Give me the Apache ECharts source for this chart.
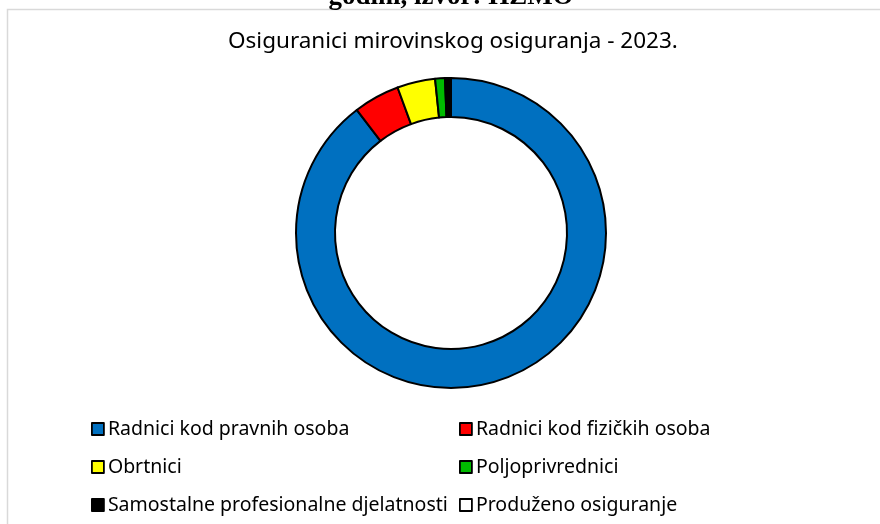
<!DOCTYPE html>
<html>
<head>
<meta charset="utf-8">
<script src="https://cdn.jsdelivr.net/npm/echarts@6/dist/echarts.min.js"></script>
<style>
  html, body { margin: 0; padding: 0; background: #fff; }
  #main { width: 880px; height: 524px; }
</style>
</head>
<body>
<div id="main"></div>
<script>
// kategorije osiguranika (redoslijed u smjeru kazaljke, od vrha)
var categories = [
    'Radnici kod pravnih osoba',
    'Radnici kod fizičkih osoba',
    'Obrtnici',
    'Poljoprivrednici',
    'Samostalne profesionalne djelatnosti',
    'Produženo osiguranje'
];
// broj osiguranika, procjena s grafa
var values = [1493000, 80000, 66000, 17000, 10000, 300];
var colors = ['#0070c0', '#ff0000', '#ffff00', '#00bb00', '#000000', '#ffffff'];

var leftCol = [categories[0], categories[2], categories[4]];
var rightCol = [categories[1], categories[3], categories[5]];

var chart = echarts.init(document.getElementById('main'));

var pieData = [];
for (var i = 0; i < categories.length; i++) {
    pieData.push({
        name: categories[i],
        value: values[i],
        itemStyle: { color: colors[i] }
    });
}

var legendBase = {
    orient: 'vertical',
    top: 414,
    icon: 'rect',
    itemWidth: 12,
    itemHeight: 12,
    itemGap: 18,
    selectedMode: false,
    itemStyle: { borderColor: '#000', borderWidth: 1.8 },
    textStyle: {
        fontFamily: 'Noto Sans',
        fontSize: 19.5,
        color: '#000',
        lineHeight: 20,
        padding: [0, 0, 0, -1]
    }
};

var option = {
    animation: false,
    backgroundColor: '#fff',
    title: {
        text: 'Osiguranici mirovinskog osiguranja - 2023.',
        left: 223,
        top: 25,
        textStyle: {
            fontFamily: 'Noto Sans',
            fontSize: 22.5,
            fontWeight: 'normal',
            color: '#000'
        }
    },
    legend: [
        Object.assign({}, legendBase, { left: 86, data: leftCol }),
        Object.assign({}, legendBase, { left: 454, data: rightCol })
    ],
    graphic: [
        {
            type: 'rect',
            shape: { x: 7.5, y: 9.5, width: 900, height: 540 },
            style: { fill: 'none', stroke: '#d9d9d9', lineWidth: 1.5 },
            silent: true
        },
        {
            type: 'text',
            x: 451,
            y: 11,
            style: {
                text: 'godini, izvor: HZMO',
                fontFamily: 'Liberation Serif',
                fontWeight: 'bold',
                fontSize: 27,
                fill: '#000',
                align: 'center',
                verticalAlign: 'bottom'
            },
            silent: true
        }
    ],
    series: [
        {
            type: 'pie',
            center: [451, 233],
            radius: [116, 155],
            startAngle: 90,
            clockwise: true,
            label: { show: false },
            labelLine: { show: false },
            silent: true,
            itemStyle: { borderColor: '#000', borderWidth: 2 },
            data: pieData
        }
    ]
};

chart.setOption(option);
</script>
</body>
</html>
